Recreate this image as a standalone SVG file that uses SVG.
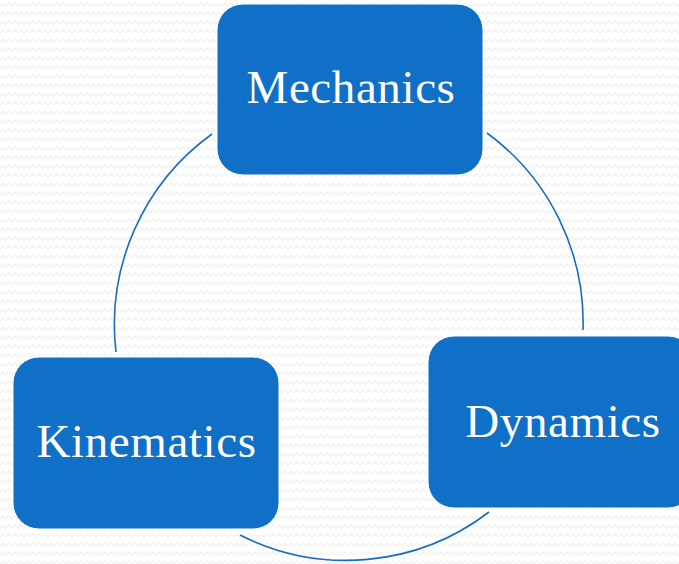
<svg xmlns="http://www.w3.org/2000/svg" width="679" height="564" viewBox="0 0 679 564">
<style>
.box{fill:#106fc6;stroke:#ffffff;stroke-width:1}
.lbl{fill:#ffffff;font-family:"Liberation Serif","DejaVu Serif",serif;font-size:47px;letter-spacing:0.6px;text-anchor:middle}
.arc{fill:none;stroke:#1a6cc0;stroke-width:1.6}
</style>
<defs>
<pattern id="zz" width="12" height="9" patternUnits="userSpaceOnUse">
<polyline points="0,6 3,3 6,6 9,3 12,6" fill="none" stroke="#f1f1f1" stroke-width="1.3"/>
</pattern>
</defs>
<rect width="679" height="564" fill="#ffffff"/>
<rect width="679" height="564" fill="url(#zz)"/>
<g id="connectors">
<path class="arc" d="M 212 134 A 235 235 0 0 0 116 352"/>
<path class="arc" d="M 487 133 A 235 235 0 0 1 583 330"/>
<path class="arc" d="M 489 512 A 235 235 0 0 1 240 535"/>
</g>
<g id="mechanics">
<rect class="box" x="217" y="4" width="266" height="171" rx="26"/>
<text class="lbl" x="351" y="103">Mechanics</text>
</g>
<g id="kinematics">
<rect class="box" x="13" y="357" width="266" height="172" rx="26"/>
<text class="lbl" x="146.5" y="457">Kinematics</text>
</g>
<g id="dynamics">
<rect class="box" x="428" y="336" width="266" height="172" rx="26"/>
<text class="lbl" x="563" y="437">Dynamics</text>
</g>
</svg>
